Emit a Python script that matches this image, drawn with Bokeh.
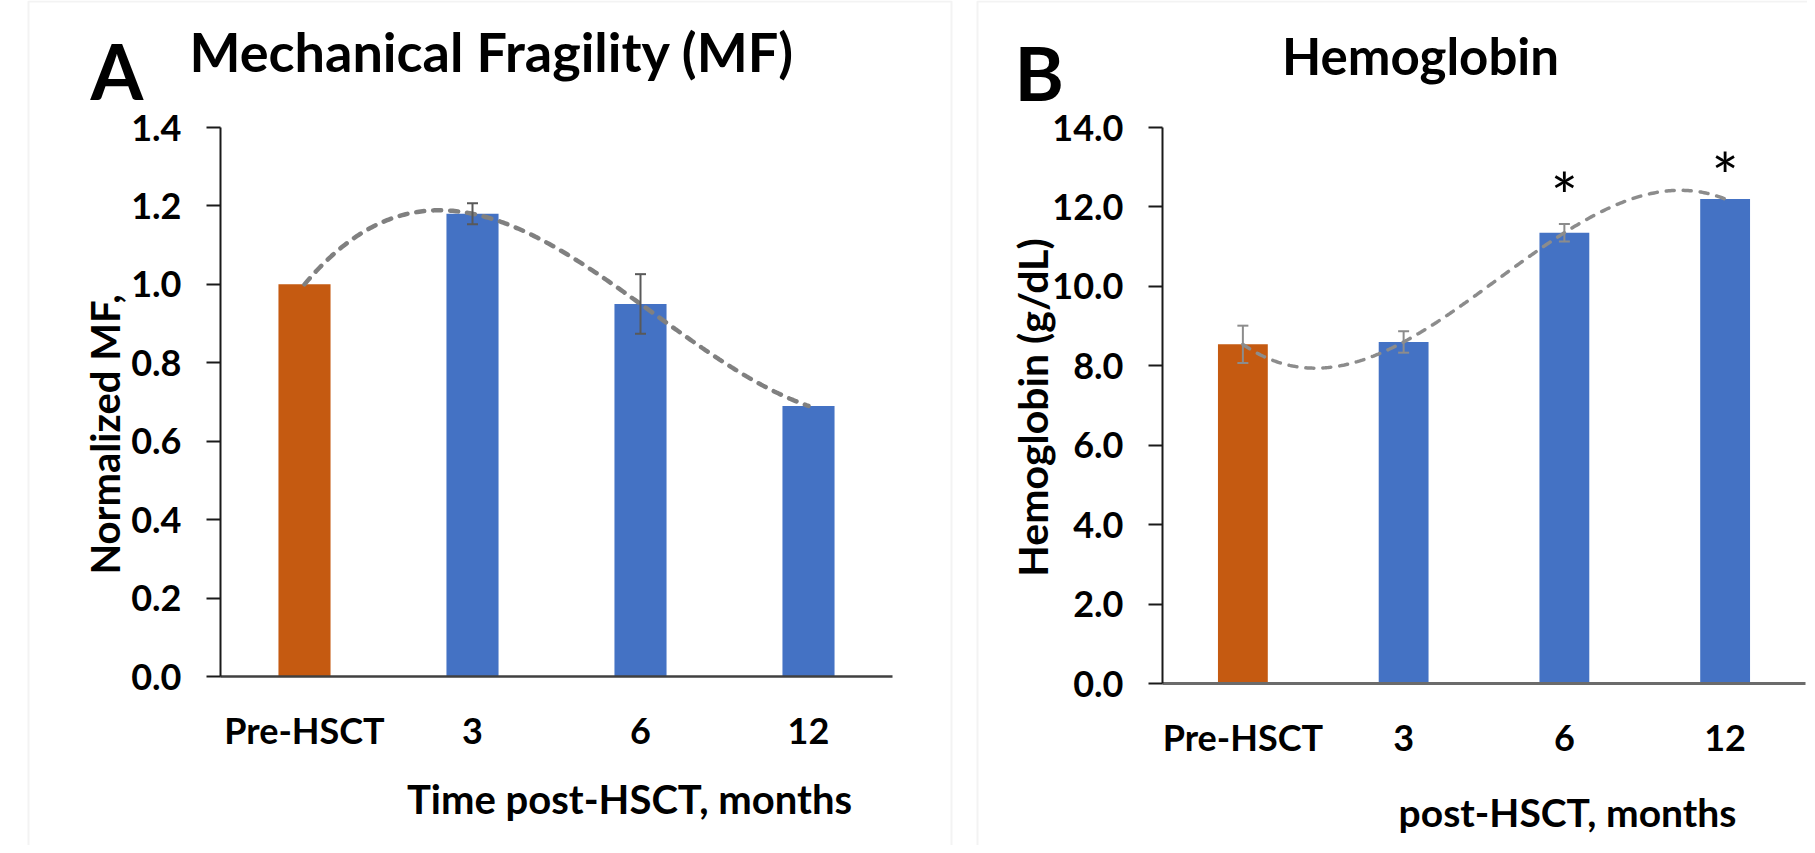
import numpy as np
from bokeh.plotting import figure
from bokeh.models import (ColumnDataSource, FixedTicker, PrintfTickFormatter, Label,
                          Whisker, TeeHead, BoxAnnotation, Range1d, CustomJSTickFormatter,
                          LinearAxis)
from bokeh.layouts import row
from bokeh.embed import file_html
from bokeh.resources import INLINE
from bokeh.core.properties import value

# ---------------- data ----------------
categories = ["Pre-HSCT", "3", "6", "12"]
mf_values = [1.00, 1.18, 0.95, 0.69]
mf_errors = [0.0, 0.027, 0.076, 0.0]
hb_values = [8.54, 8.60, 11.35, 12.20]
hb_errors = [0.47, 0.27, 0.22, 0.0]
mf_ticks = [0.0, 0.2, 0.4, 0.6, 0.8, 1.0, 1.2, 1.4]
hb_ticks = [0.0, 2.0, 4.0, 6.0, 8.0, 10.0, 12.0, 14.0]
hb_star_pos = [3, 4]          # bars marked with *
hb_star_y = [12.3, 12.8]

ORANGE = "#C55A11"
BLUE = "#4472C4"
FONT = "Lato"
H = 845


class Panel:
    """A figure whose frame fills the canvas; the chart area sits at a fixed pixel box."""

    def __init__(self, width, offset_x, area_left, area_right, area_top, area_bottom, ymax):
        self.W = width
        self.ox = offset_x  # reference x of this canvas' left edge
        self.l, self.r, self.t, self.b = area_left, area_right, area_top, area_bottom
        self.ymax = ymax
        kx = 4.0 / (area_right - area_left)
        ky = ymax / (area_bottom - area_top)
        xr = Range1d(0.5 - area_left * kx, 4.5 + (width - area_right) * kx)
        yr = Range1d(-(H - area_bottom) * ky, ymax + area_top * ky)
        p = figure(width=width, height=H, x_range=xr, y_range=yr,
                   output_backend="svg", toolbar_location=None, title=None,
                   x_axis_location=None, y_axis_location=None,
                   min_border_left=0, min_border_right=0, min_border_top=0, min_border_bottom=0)
        p.outline_line_color = None
        p.background_fill_color = "white"
        p.border_fill_color = "white"
        p.xgrid.visible = False
        p.ygrid.visible = False
        self.p = p

    def dx(self, rx):  # reference pixel x -> data x
        cx = rx - 8 - self.ox
        return 0.5 + (cx - self.l) / (self.r - self.l) * 4

    def dy(self, ry):
        cy = ry - 8
        return (self.b - cy) / (self.b - self.t) * self.ymax

    def text(self, rx, ry, text, size, align="left", angle=0, style="bold"):
        self.p.add_layout(Label(x=self.dx(rx), y=self.dy(ry), text=text, text_font=FONT,
                                text_font_style=style, text_font_size=size, text_align=align,
                                text_baseline="alphabetic", text_color="#000000",
                                angle=angle, angle_units="deg"))

    def box(self, left, right, top, bottom):
        self.p.add_layout(BoxAnnotation(left=self.dx(left), right=self.dx(right),
                                        top=self.dy(top), bottom=self.dy(bottom),
                                        fill_color=None, fill_alpha=0, line_color="#d6d6d6",
                                        line_width=2, level="underlay"))

    def chart(self, values, errors, ticks, err_color, trend_color, trend_width,
              xaxis_color, xaxis_width):
        p = self.p
        n = len(categories)
        xs = list(range(1, n + 1))
        colors = [ORANGE] + [BLUE] * (n - 1)
        src = ColumnDataSource(dict(x=xs, top=values, color=colors))
        p.vbar(x="x", top="top", width=0.31, color="color", line_color=None, source=src)

        # polynomial (order 3) trendline through the bar values
        coef = np.polyfit(xs, values, 3)
        tx = np.linspace(1, n, 300)
        p.line(tx, np.polyval(coef, tx), line_color=trend_color, line_width=trend_width,
               line_dash="8 9", line_cap="round")

        ex = [x for x, e in zip(xs, errors) if e > 0]
        ev = [v for v, e in zip(values, errors) if e > 0]
        ee = [e for e in errors if e > 0]
        esrc = ColumnDataSource(dict(x=ex, upper=[v + e for v, e in zip(ev, ee)],
                                     lower=[v - e for v, e in zip(ev, ee)]))
        w = Whisker(base="x", upper="upper", lower="lower", source=esrc, level="overlay",
                    line_color=err_color, line_width=2,
                    upper_head=TeeHead(size=11, line_color=err_color, line_width=2),
                    lower_head=TeeHead(size=11, line_color=err_color, line_width=2))
        p.add_layout(w)

        ya = LinearAxis(fixed_location=0.5, bounds=(0, self.ymax))
        ya.ticker = FixedTicker(ticks=ticks)
        ya.formatter = PrintfTickFormatter(format="%.1f")
        ya.axis_line_color = "#1a1a1a"
        ya.axis_line_width = 2
        ya.major_tick_line_color = "#1a1a1a"
        ya.major_tick_line_width = 2
        ya.major_tick_out = 14
        ya.major_tick_in = 0
        ya.minor_tick_out = 0
        ya.minor_tick_in = 0
        ya.major_label_standoff = 25
        ya.major_label_text_font = FONT
        ya.major_label_text_font_style = "bold"
        ya.major_label_text_font_size = "36px"
        ya.major_label_text_color = "#000000"
        p.add_layout(ya, "left")

        xa = LinearAxis(fixed_location=0, bounds=(0.5, 4.5))
        xa.ticker = FixedTicker(ticks=xs)
        xa.formatter = CustomJSTickFormatter(args=dict(labels=categories),
                                             code="return labels[Math.round(tick) - 1];")
        xa.axis_line_color = xaxis_color
        xa.axis_line_width = xaxis_width
        xa.major_tick_out = 0
        xa.major_tick_in = 0
        xa.minor_tick_out = 0
        xa.minor_tick_in = 0
        xa.major_label_standoff = 31
        xa.major_label_text_font = FONT
        xa.major_label_text_font_style = "bold"
        xa.major_label_text_font_size = "36px"
        xa.major_label_text_color = "#000000"
        p.add_layout(xa, "below")


# ---------------- panel A ----------------
WA = 964
A = Panel(WA, 0, 220, 892, 127, 676, 1.4)
A.box(36, 959, 9, 900)
A.chart(mf_values, mf_errors, mf_ticks, "#595959", "#808080", 4.5, "#404040", 2.5)
A.text(98, 78, "A", "76px")
A.text(197, 59, "Mechanical Fragility (MF)", "54px")
A.text(112, 442, "Normalized MF,", "40px", align="center", angle=90)
A.text(637, 806, "Time post-HSCT, months", "40px", align="center")

# ---------------- panel B ----------------
WB = 1807 - WA
B = Panel(WB, WA, 198, 841, 127, 683, 14.0)
B.box(985, 1900, 9, 900)
B.chart(hb_values, hb_errors, hb_ticks, "#8c8c8c", "#8c8c8c", 3.5, "#6b6b6b", 3)
B.text(1022, 79, "B", "75px")
B.text(1428, 63, "Hemoglobin", "51px", align="center")
B.text(1040, 415, "Hemoglobin (g/dL)", "41px", align="center", angle=90)
B.text(1575, 819, "post-HSCT, months", "39px", align="center")

ssrc = ColumnDataSource(dict(x=hb_star_pos, y=hb_star_y, t=["*"] * len(hb_star_pos)))
B.p.text(x="x", y="y", text="t", source=ssrc, text_font=value(FONT), text_font_size="64px",
         text_align="center", text_baseline="alphabetic", text_color="#000000")

layout = row(A.p, B.p)
open("out.html", "w").write(file_html(layout, INLINE))
